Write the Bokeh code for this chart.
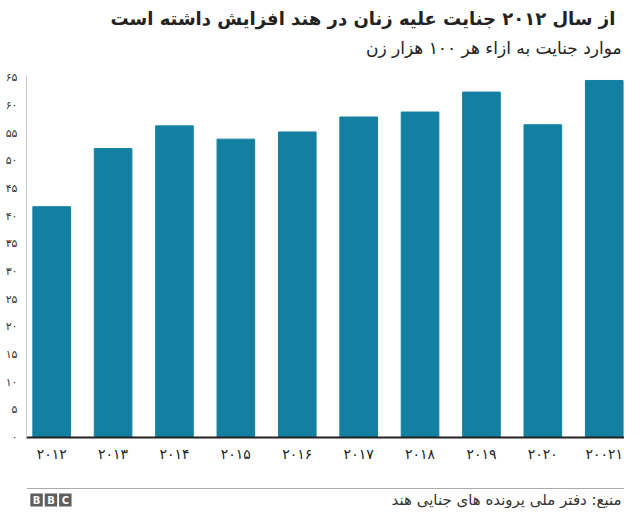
from bokeh.plotting import figure
from bokeh.layouts import column
from bokeh.models import Range1d, FixedTicker, Label, BoxAnnotation
from bokeh.embed import file_html
from bokeh.resources import INLINE

# ---- data ----
years = ["۲۰۱۲", "۲۰۱۳", "۲۰۱۴", "۲۰۱۵", "۲۰۱۶", "۲۰۱۷", "۲۰۱۸", "۲۰۱۹", "۲۰۲۰", "۲۰۰۲۱"]
rates = [41.7, 52.2, 56.3, 53.9, 55.2, 57.9, 58.8, 62.4, 56.5, 64.5]
y_ticks = [0, 5, 10, 15, 20, 25, 30, 35, 40, 45, 50, 55, 60, 65]
y_tick_labels = ["۰", "۵", "۱۰", "۱۵", "۲۰", "۲۵", "۳۰", "۳۵", "۴۰", "۴۵", "۵۰", "۵۵", "۶۰", "۶۵"]
title_text = "از سال ۲۰۱۲ جنایت علیه زنان  در هند افزایش داشته است"
subtitle_text = "موارد جنایت به ازاء هر ۱۰۰ هزار زن"
source_text = "منبع: دفتر ملی پرونده های جنایی هند"

FONT = "DejaVu Sans"
BAR = "#1380A1"
W = 624
HEAD_H, MAIN_H, FOOT_H = 67, 397, 44


def blank(h):
    f = figure(width=W, height=h, output_backend="svg", toolbar_location=None,
               x_range=Range1d(0, W), y_range=Range1d(h, 0),
               x_axis_type=None, y_axis_type=None,
               min_border=0, min_border_left=0, min_border_right=0,
               min_border_top=0, min_border_bottom=0)
    f.outline_line_color = None
    f.xgrid.grid_line_color = None
    f.ygrid.grid_line_color = None
    return f


# ---- header ----
head = blank(HEAD_H)
head.add_layout(Label(x=621, y=18, text=title_text, text_align="right", text_baseline="middle",
                      text_font=FONT, text_font_size="18px", text_font_style="bold",
                      text_color="#222222"))
head.add_layout(Label(x=621, y=47, text=subtitle_text, text_align="right", text_baseline="middle",
                      text_font=FONT, text_font_size="17px", text_color="#222222"))

# ---- main chart ----
p = figure(width=W, height=MAIN_H, output_backend="svg", toolbar_location=None,
           x_range=Range1d(-0.41, 9.33), y_range=Range1d(0, 65.4),
           min_border_left=26, min_border_right=0, min_border_top=8, min_border_bottom=26)
p.outline_line_color = None
p.xgrid.grid_line_color = None
p.ygrid.grid_line_color = None

xs = list(range(len(years)))
p.vbar(x=xs, top=rates, width=0.613, color=BAR)

ya = p.yaxis[0]
ya.ticker = FixedTicker(ticks=y_ticks)
ya.major_label_overrides = {t: l for t, l in zip(y_ticks, y_tick_labels)}
ya.axis_line_color = "#cccccc"
ya.major_tick_line_color = None
ya.minor_tick_line_color = None
ya.major_tick_out = 0
ya.major_tick_in = 0
ya.major_label_standoff = 9
ya.major_label_text_font = FONT
ya.major_label_text_font_size = "11px"
ya.major_label_text_color = "#333333"

xa = p.xaxis[0]
xa.ticker = FixedTicker(ticks=xs)
xa.major_label_overrides = {i: y for i, y in zip(xs, years)}
xa.axis_line_color = "#222222"
xa.axis_line_width = 2
xa.major_tick_line_color = None
xa.minor_tick_line_color = None
xa.major_tick_out = 0
xa.major_tick_in = 0
xa.major_label_standoff = 8
xa.major_label_text_font = FONT
xa.major_label_text_font_size = "14px"
xa.major_label_text_color = "#222222"

# ---- footer ----
foot = blank(FOOT_H)
foot.add_layout(BoxAnnotation(left=0, right=W, top=23.5, bottom=24.5, fill_color="#aaaaaa",
                              fill_alpha=1, line_color=None))
foot.add_layout(Label(x=621, y=35, text=source_text, text_align="right", text_baseline="middle",
                      text_font=FONT, text_font_size="15px", text_color="#333333"))
for i, ch in enumerate("BBC"):
    x0 = 4 + i * 15
    foot.add_layout(BoxAnnotation(left=x0, right=x0 + 13, top=29, bottom=42, fill_color="#5f5f5f",
                                  fill_alpha=1, line_color=None))
    foot.add_layout(Label(x=x0 + 6.5, y=35.5, text=ch, text_align="center", text_baseline="middle",
                          text_font=FONT, text_font_size="10px", text_font_style="bold",
                          text_color="white"))

layout = column(head, p, foot, spacing=0)
open("out.html", "w").write(file_html(layout, INLINE))
